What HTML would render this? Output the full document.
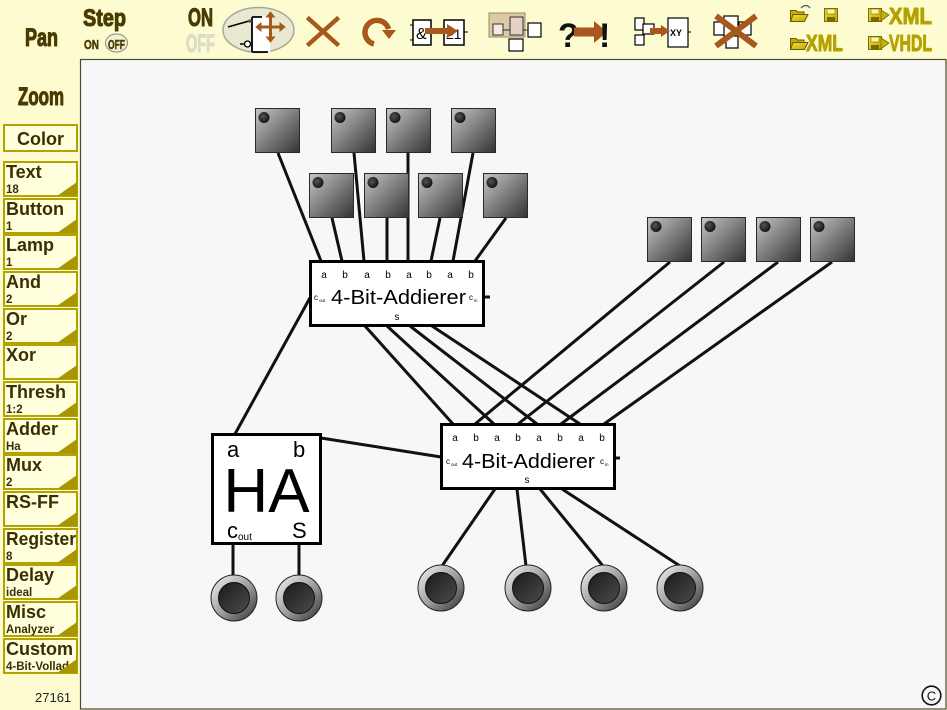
<!DOCTYPE html>
<html><head><meta charset="utf-8"><style>
html,body{margin:0;padding:0;background:#fdfcd0;overflow:hidden;}
svg{display:block}
</style></head><body>
<svg width="947" height="710" viewBox="0 0 947 710" xmlns="http://www.w3.org/2000/svg" font-family="Liberation Sans, Arial, sans-serif">
<defs>
<linearGradient id="bg" x1="0" y1="0" x2="1" y2="1"><stop offset="0" stop-color="#c6c6c6"/><stop offset="1" stop-color="#333"/></linearGradient>
<linearGradient id="lo" x1="0" y1="0" x2="1" y2="1"><stop offset="0" stop-color="#f6f6f6"/><stop offset="0.55" stop-color="#999"/><stop offset="1" stop-color="#2c2c2c"/></linearGradient>
<linearGradient id="li" x1="0" y1="0" x2="1" y2="1"><stop offset="0" stop-color="#1a1a1a"/><stop offset="1" stop-color="#4c4c4c"/></linearGradient>
<radialGradient id="dot" cx="0.4" cy="0.4" r="0.6"><stop offset="0" stop-color="#555"/><stop offset="1" stop-color="#151515"/></radialGradient>
<linearGradient id="gold" x1="0" y1="0" x2="1" y2="1"><stop offset="0" stop-color="#f4e040"/><stop offset="1" stop-color="#c0a400"/></linearGradient>
<g id="btn"><rect x="0.5" y="0.5" width="44" height="44" fill="url(#bg)" stroke="#2a2a2a"/><circle cx="9" cy="9.5" r="5.5" fill="url(#dot)"/></g>
<g id="lamp"><circle r="23" fill="url(#lo)" stroke="#222" stroke-width="1"/><circle r="15.5" fill="url(#li)" stroke="#111" stroke-width="1"/></g>
<clipPath id="sbclip"><rect x="2" y="0" width="77" height="710"/></clipPath>
<clipPath id="cclip"><rect x="4" y="639" width="72" height="34"/></clipPath>
<g id="floppy"><rect x="0.5" y="0.5" width="13" height="13" fill="url(#gold)" stroke="#7a6a00"/><rect x="3" y="1" width="8" height="5" fill="#fff6a0" stroke="#7a6a00" stroke-width="0.6"/><rect x="3" y="9" width="8" height="4" fill="#7a6a00"/></g>
<g id="folder"><path d="M0.5 3.5 H6 L7.5 5 H14 V14.5 H0.5 Z" fill="#c8ac00" stroke="#6a5a00"/><path d="M3 7.5 H18 L14.5 14.5 H0.5 Z" fill="url(#gold)" stroke="#6a5a00"/></g>
</defs>

<!-- background -->
<rect x="0" y="0" width="947" height="710" fill="#fdfcd0"/>

<!-- canvas -->
<rect x="80.5" y="59.5" width="865.5" height="649.5" fill="#f7f7f7" stroke="#4a4a34" stroke-width="1.2"/>

<!-- ===== Toolbar ===== -->
<g font-weight="bold" fill="#4a3c00" stroke="#4a3c00" stroke-width="1.1" stroke-linejoin="round">
  <text x="25" y="46" font-size="25" textLength="33" lengthAdjust="spacingAndGlyphs">Pan</text>
  <text x="83" y="26" font-size="24" textLength="43" lengthAdjust="spacingAndGlyphs">Step</text>
  <text x="84" y="49" font-size="13" stroke-width="0.5" textLength="15" lengthAdjust="spacingAndGlyphs">ON</text>
  <text x="188" y="26" font-size="25" textLength="25" lengthAdjust="spacingAndGlyphs">ON</text>
  <text x="18" y="105" font-size="25" textLength="46" lengthAdjust="spacingAndGlyphs">Zoom</text>
</g>
<ellipse cx="116.5" cy="43" rx="11" ry="9" fill="#f2f0d4" stroke="#8a8a7a" stroke-width="1"/>
<text x="108" y="49" font-size="13" font-weight="bold" fill="#4a3c00" stroke="#4a3c00" stroke-width="0.5" textLength="17" lengthAdjust="spacingAndGlyphs">OFF</text>
<text x="186" y="52" font-size="25" font-weight="bold" fill="#dcdcc8" stroke="#dcdcc8" stroke-width="1.1" textLength="29" lengthAdjust="spacingAndGlyphs">OFF</text>

<!-- select/move icon -->
<ellipse cx="258.5" cy="30" rx="35.5" ry="22.5" fill="#e9e8d0" stroke="#a8a898" stroke-width="1.5"/>
<rect x="252" y="17" width="18" height="35" fill="#fff"/>
<path d="M252 17 V52 M252 17 H262 M252 52 H268" stroke="#000" stroke-width="1.8" fill="none"/>
<line x1="228" y1="27" x2="249" y2="21" stroke="#000" stroke-width="1.5"/>
<circle cx="250" cy="21" r="1.8" fill="#555"/>
<line x1="240" y1="44" x2="244" y2="44" stroke="#000" stroke-width="1.5"/>
<circle cx="247.5" cy="44" r="3" fill="#fff" stroke="#000" stroke-width="1.3"/>
<g stroke="#a8581c" stroke-width="3" fill="#a8581c">
  <line x1="259" y1="27" x2="282" y2="27"/>
  <line x1="270.5" y1="15" x2="270.5" y2="39"/>
  <polygon points="256,27 261,23 261,31" stroke-width="1"/>
  <polygon points="285,27 280,23 280,31" stroke-width="1"/>
  <polygon points="270.5,12 266.5,17 274.5,17" stroke-width="1"/>
  <polygon points="270.5,42 266.5,37 274.5,37" stroke-width="1"/>
</g>

<!-- delete X -->
<g stroke="#a8581c" stroke-width="4.5" stroke-linecap="square">
  <line x1="309" y1="19" x2="337" y2="44"/>
  <line x1="309" y1="44" x2="337" y2="19"/>
</g>

<!-- rotate -->
<path d="M374 44 A12 12 0 1 1 388.5 29" fill="none" stroke="#a8581c" stroke-width="5.5"/>
<polygon points="382,30 396,30 389,39" fill="#a8581c"/>

<!-- & -> >=1 -->
<rect x="413" y="20" width="18" height="25" fill="#fff" stroke="#000" stroke-width="1.5"/>
<line x1="410" y1="25" x2="413" y2="25" stroke="#000"/><line x1="410" y1="40" x2="413" y2="40" stroke="#000"/>
<text x="416" y="39" font-size="16" fill="#000">&amp;</text>
<rect x="444" y="20" width="20" height="25" fill="#fff" stroke="#000" stroke-width="1.5"/>
<line x1="464" y1="32" x2="468" y2="32" stroke="#000"/>
<text x="446" y="39" font-size="14" fill="#000">≥1</text>
<line x1="425" y1="31" x2="450" y2="31" stroke="#a8581c" stroke-width="6"/>
<polygon points="447,24 458,31 447,38" fill="#a8581c"/>

<!-- group icon -->
<rect x="489" y="13" width="36" height="24" fill="#dccaa6" stroke="#a08a60" stroke-width="1"/>
<rect x="493" y="24" width="10" height="11" fill="#f4ece0" stroke="#333" stroke-width="1"/>
<rect x="510" y="17" width="13" height="18" fill="#e6d2c4" stroke="#333" stroke-width="1"/>
<rect x="528" y="23" width="13" height="14" fill="#fff" stroke="#000" stroke-width="1.2"/>
<rect x="509" y="39" width="14" height="12" fill="#fff" stroke="#000" stroke-width="1.2"/>
<line x1="503" y1="30" x2="510" y2="30" stroke="#333"/><line x1="523" y1="30" x2="528" y2="30" stroke="#333"/>

<!-- ?->! -->
<text x="558" y="47" font-size="34" font-weight="bold" fill="#111">?</text>
<line x1="574" y1="32" x2="598" y2="32" stroke="#a8581c" stroke-width="9"/>
<polygon points="594,21 607,32 594,43" fill="#a8581c"/>
<text x="599" y="47" font-size="34" font-weight="bold" fill="#111">!</text>

<!-- blocks -> XY -->
<g fill="#fff" stroke="#000" stroke-width="1.2">
  <rect x="635" y="18" width="9" height="12"/>
  <rect x="643" y="24" width="11" height="10"/>
  <rect x="635" y="35" width="9" height="10"/>
  <rect x="668" y="18" width="20" height="29"/>
</g>
<line x1="650" y1="31" x2="664" y2="31" stroke="#a8581c" stroke-width="6"/>
<polygon points="661,25 670,31 661,37" fill="#a8581c"/>
<text x="670" y="36" font-size="9" font-weight="bold" fill="#000">XY</text>
<line x1="688" y1="32" x2="691" y2="32" stroke="#000"/>

<!-- crossed blocks -->
<g fill="#fff" stroke="#000" stroke-width="1.2">
  <rect x="714" y="22" width="11" height="13"/>
  <rect x="724" y="16" width="14" height="20"/>
  <rect x="739" y="22" width="12" height="13"/>
  <rect x="726" y="36" width="12" height="12"/>
</g>
<g stroke="#a8581c" stroke-width="6">
  <line x1="716" y1="16" x2="756" y2="46"/>
  <line x1="716" y1="46" x2="756" y2="16"/>
</g>

<!-- file icons -->
<use href="#folder" x="790" y="7"/>
<path d="M801 8 Q806 3 810 8" fill="none" stroke="#555" stroke-width="1.2"/>
<use href="#floppy" x="824" y="8"/>
<use href="#floppy" x="868" y="8"/>
<polygon points="881,10 889,15 881,21" fill="#c8b000" stroke="#7a6a00" stroke-width="0.8"/>
<use href="#folder" x="790" y="35"/>
<use href="#floppy" x="868" y="36"/>
<polygon points="881,38 889,43 881,49" fill="#c8b000" stroke="#7a6a00" stroke-width="0.8"/>
<g font-weight="bold" fill="#b5a200" stroke="#b5a200" stroke-width="1" stroke-linejoin="round">
  <text x="889" y="24" font-size="23" textLength="43" lengthAdjust="spacingAndGlyphs">XML</text>
  <text x="806" y="51" font-size="23" textLength="37" lengthAdjust="spacingAndGlyphs">XML</text>
  <text x="889" y="51" font-size="23" textLength="43" lengthAdjust="spacingAndGlyphs">VHDL</text>
</g>

<!-- ===== Sidebar ===== -->
<rect x="4" y="125" width="73" height="26" fill="#ffffde" stroke="#b3a300" stroke-width="2"/>
<text x="40.5" y="145" font-size="18" font-weight="bold" fill="#3a2f00" text-anchor="middle">Color</text>

<g clip-path="url(#sbclip)" font-weight="bold" fill="#3a2f00">
  <g transform="translate(0,162)"><rect x="4" y="0" width="73" height="34" fill="#ffffde" stroke="#b3a300" stroke-width="2"/><text x="6" y="16" font-size="18">Text</text><text x="6" y="31" font-size="11.5">18</text><polygon points="57,34 77,34 77,20" fill="#a89500"/></g>
  <g transform="translate(0,199)"><rect x="4" y="0" width="73" height="34" fill="#ffffde" stroke="#b3a300" stroke-width="2"/><text x="6" y="16" font-size="18">Button</text><text x="6" y="31" font-size="11.5">1</text><polygon points="57,34 77,34 77,20" fill="#a89500"/></g>
  <g transform="translate(0,235)"><rect x="4" y="0" width="73" height="34" fill="#ffffde" stroke="#b3a300" stroke-width="2"/><text x="6" y="16" font-size="18">Lamp</text><text x="6" y="31" font-size="11.5">1</text><polygon points="57,34 77,34 77,20" fill="#a89500"/></g>
  <g transform="translate(0,272)"><rect x="4" y="0" width="73" height="34" fill="#ffffde" stroke="#b3a300" stroke-width="2"/><text x="6" y="16" font-size="18">And</text><text x="6" y="31" font-size="11.5">2</text><polygon points="57,34 77,34 77,20" fill="#a89500"/></g>
  <g transform="translate(0,309)"><rect x="4" y="0" width="73" height="34" fill="#ffffde" stroke="#b3a300" stroke-width="2"/><text x="6" y="16" font-size="18">Or</text><text x="6" y="31" font-size="11.5">2</text><polygon points="57,34 77,34 77,20" fill="#a89500"/></g>
  <g transform="translate(0,345)"><rect x="4" y="0" width="73" height="34" fill="#ffffde" stroke="#b3a300" stroke-width="2"/><text x="6" y="16" font-size="18">Xor</text><polygon points="57,34 77,34 77,20" fill="#a89500"/></g>
  <g transform="translate(0,382)"><rect x="4" y="0" width="73" height="34" fill="#ffffde" stroke="#b3a300" stroke-width="2"/><text x="6" y="16" font-size="18">Thresh</text><text x="6" y="31" font-size="11.5">1:2</text><polygon points="57,34 77,34 77,20" fill="#a89500"/></g>
  <g transform="translate(0,419)"><rect x="4" y="0" width="73" height="34" fill="#ffffde" stroke="#b3a300" stroke-width="2"/><text x="6" y="16" font-size="18">Adder</text><text x="6" y="31" font-size="11.5">Ha</text><polygon points="57,34 77,34 77,20" fill="#a89500"/></g>
  <g transform="translate(0,455)"><rect x="4" y="0" width="73" height="34" fill="#ffffde" stroke="#b3a300" stroke-width="2"/><text x="6" y="16" font-size="18">Mux</text><text x="6" y="31" font-size="11.5">2</text><polygon points="57,34 77,34 77,20" fill="#a89500"/></g>
  <g transform="translate(0,492)"><rect x="4" y="0" width="73" height="34" fill="#ffffde" stroke="#b3a300" stroke-width="2"/><text x="6" y="16" font-size="18">RS-FF</text><polygon points="57,34 77,34 77,20" fill="#a89500"/></g>
  <g transform="translate(0,529)"><rect x="4" y="0" width="73" height="34" fill="#ffffde" stroke="#b3a300" stroke-width="2"/><text x="6" y="16" font-size="18" textLength="70" lengthAdjust="spacingAndGlyphs">Register</text><text x="6" y="31" font-size="11.5">8</text><polygon points="57,34 77,34 77,20" fill="#a89500"/></g>
  <g transform="translate(0,565)"><rect x="4" y="0" width="73" height="34" fill="#ffffde" stroke="#b3a300" stroke-width="2"/><text x="6" y="16" font-size="18">Delay</text><text x="6" y="31" font-size="11.5">ideal</text><polygon points="57,34 77,34 77,20" fill="#a89500"/></g>
  <g transform="translate(0,602)"><rect x="4" y="0" width="73" height="34" fill="#ffffde" stroke="#b3a300" stroke-width="2"/><text x="6" y="16" font-size="18">Misc</text><text x="6" y="31" font-size="11.5">Analyzer</text><polygon points="57,34 77,34 77,20" fill="#a89500"/></g>
  <g><rect x="4" y="639" width="73" height="34" fill="#ffffde" stroke="#b3a300" stroke-width="2"/><text x="6" y="655" font-size="18">Custom</text><text x="6" y="670" font-size="11.5" clip-path="url(#cclip)">4-Bit-Volladdierer</text><polygon points="57,673 77,673 77,659" fill="#a89500"/></g>
</g>

<text x="35" y="702" font-size="13" fill="#222">27161</text>

<!-- ===== Circuit ===== -->
<g stroke="#111" stroke-width="3" fill="none">
  <line x1="278" y1="153" x2="321" y2="261"/>
  <line x1="332" y1="218" x2="342" y2="261"/>
  <line x1="354" y1="153" x2="364" y2="261"/>
  <line x1="387" y1="218" x2="387" y2="261"/>
  <line x1="408" y1="153" x2="408" y2="261"/>
  <line x1="440" y1="218" x2="431" y2="261"/>
  <line x1="473" y1="153" x2="453" y2="261"/>
  <line x1="506" y1="218" x2="475" y2="261"/>
  <line x1="365" y1="326" x2="453" y2="424"/>
  <line x1="387" y1="326" x2="494" y2="424"/>
  <line x1="410" y1="326" x2="537" y2="424"/>
  <line x1="432" y1="326" x2="580" y2="424"/>
  <line x1="670" y1="262" x2="475" y2="424"/>
  <line x1="724" y1="262" x2="518" y2="424"/>
  <line x1="778" y1="262" x2="561" y2="424"/>
  <line x1="832" y1="262" x2="604" y2="424"/>
  <line x1="235" y1="434" x2="311" y2="296"/>
  <line x1="321" y1="438" x2="441" y2="457"/>
  <line x1="233" y1="544" x2="233" y2="576"/>
  <line x1="299" y1="544" x2="299" y2="576"/>
  <line x1="495" y1="489" x2="442" y2="566"/>
  <line x1="517" y1="489" x2="526" y2="566"/>
  <line x1="540" y1="489" x2="603" y2="566"/>
  <line x1="562" y1="489" x2="680" y2="566"/>
  <line x1="484" y1="297" x2="490" y2="297"/>
  <line x1="615" y1="458" x2="620" y2="458"/>
</g>

<!-- buttons -->
<use href="#btn" x="255" y="108"/>
<use href="#btn" x="331" y="108"/>
<use href="#btn" x="386" y="108"/>
<use href="#btn" x="451" y="108"/>
<use href="#btn" x="309" y="173"/>
<use href="#btn" x="364" y="173"/>
<use href="#btn" x="418" y="173"/>
<use href="#btn" x="483" y="173"/>
<use href="#btn" x="647" y="217"/>
<use href="#btn" x="701" y="217"/>
<use href="#btn" x="756" y="217"/>
<use href="#btn" x="810" y="217"/>

<!-- lamps -->
<use href="#lamp" x="234" y="598"/>
<use href="#lamp" x="299" y="598"/>
<use href="#lamp" x="441" y="588"/>
<use href="#lamp" x="528" y="588"/>
<use href="#lamp" x="604" y="588"/>
<use href="#lamp" x="680" y="588"/>

<!-- top adder -->
<rect x="310.5" y="261.5" width="173" height="64" fill="#fff" stroke="#000" stroke-width="3"/>
<g font-size="10" fill="#000" text-anchor="middle">
  <text x="324" y="278">a</text><text x="345" y="278">b</text><text x="367" y="278">a</text><text x="388" y="278">b</text>
  <text x="409" y="278">a</text><text x="429" y="278">b</text><text x="450" y="278">a</text><text x="471" y="278">b</text>
  <text x="397" y="320">s</text>
</g>
<text x="331" y="304" font-size="20" fill="#000" textLength="135" lengthAdjust="spacingAndGlyphs">4-Bit-Addierer</text>
<text x="314" y="300" font-size="8" fill="#000">c</text><text x="319" y="302" font-size="4.5" fill="#000">out</text>
<text x="469" y="300" font-size="8" fill="#000">c</text><text x="474" y="302" font-size="4.5" fill="#000">in</text>

<!-- bottom adder -->
<rect x="441.5" y="424.5" width="173" height="64" fill="#fff" stroke="#000" stroke-width="3"/>
<g font-size="10" fill="#000" text-anchor="middle">
  <text x="455" y="441">a</text><text x="476" y="441">b</text><text x="497" y="441">a</text><text x="518" y="441">b</text>
  <text x="539" y="441">a</text><text x="560" y="441">b</text><text x="581" y="441">a</text><text x="602" y="441">b</text>
  <text x="527" y="483">s</text>
</g>
<text x="462" y="468" font-size="20" fill="#000" textLength="133" lengthAdjust="spacingAndGlyphs">4-Bit-Addierer</text>
<text x="446" y="464" font-size="8" fill="#000">c</text><text x="451" y="466" font-size="4.5" fill="#000">out</text>
<text x="600" y="464" font-size="8" fill="#000">c</text><text x="605" y="466" font-size="4.5" fill="#000">in</text>

<!-- HA -->
<rect x="212.5" y="434.5" width="108" height="109" fill="#fff" stroke="#000" stroke-width="3"/>
<text x="227" y="457" font-size="22" fill="#000">a</text>
<text x="293" y="457" font-size="22" fill="#000">b</text>
<text x="266.5" y="512" font-size="62" fill="#000" text-anchor="middle">HA</text>
<text x="227" y="538" font-size="22" fill="#000">c</text>
<text x="238" y="540" font-size="10" fill="#000">out</text>
<text x="292" y="538" font-size="22" fill="#000">S</text>

<!-- copyright -->
<circle cx="931.5" cy="695.5" r="9.3" fill="none" stroke="#111" stroke-width="1.6"/>
<text x="931.5" y="700.5" font-size="13" fill="#111" text-anchor="middle">C</text>
</svg>
</body></html>
